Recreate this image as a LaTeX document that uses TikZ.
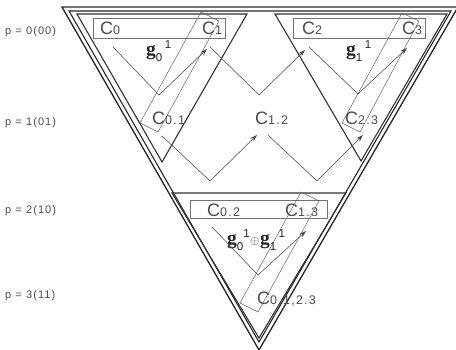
\documentclass[tikz,border=0pt]{standalone}
\usepackage{fontspec}
\setmainfont{Liberation Sans}
\newfontfamily\labfont[LetterSpace=10]{Liberation Sans}
\newfontfamily\gfont{Liberation Serif}
\usetikzlibrary{arrows.meta}
\tikzset{
  outertri/.style={draw=black!85, line width=1.3pt, line join=miter},
  tri/.style={draw=black!80, line width=1.1pt, line join=miter},
  box/.style={draw=black!55, line width=0.6pt},
  tilt/.style={draw=black!60, line width=0.5pt, line join=miter},
  flow/.style={draw=black!72, line width=0.55pt},
  arr/.style={flow, -{Stealth[length=7pt,width=4.5pt]}},
  clab/.style={inner sep=0pt, anchor=base west, text=black!70},
  plab/.style={inner sep=0pt, anchor=base west, text=black!70, font=\labfont\fontsize{11}{11}\selectfont},
  glab/.style={inner sep=0pt, anchor=base west, text=black!85},
}
\newcommand\Cl[1]{{\fontsize{18}{18}\selectfont C}{\labfont\fontsize{12.5}{12.5}\selectfont #1}}
\newcommand\gsym{{\gfont\bfseries\fontsize{19.5}{19.5}\selectfont g}}
\newcommand\gsub[1]{\raisebox{-6pt}{\fontsize{11.5}{11.5}\selectfont #1}}
\newcommand\gsup[1]{\raisebox{7pt}{\fontsize{11.5}{11.5}\selectfont #1}}
\begin{document}
\begin{tikzpicture}[x=1pt,y=-1pt]
\useasboundingbox (0,0) rectangle (456,350);
% outer double triangle
\draw[outertri] (62,7) -- (458,7) -- (259,350) -- cycle;
\draw[outertri, line width=1.1pt] (69,11) -- (451,11) -- (259,342) -- cycle;
% small triangles
\draw[tri] (77,14) -- (247,14) -- (162,162) -- cycle;
\draw[tri] (275,14) -- (447,14) -- (361,161) -- cycle;
\draw[tri] (172,193) -- (346,193) -- (259,338) -- cycle;
% rectangles
\draw[box] (93,18) rectangle (225,38);
\draw[box] (293,18) rectangle (425,38);
\draw[box] (190,200) rectangle (327,218);
% tilted rectangles
\draw[tilt] (201,12) -- (219,21) -- (158,132) -- (140,123) -- cycle;
\draw[tilt] (402,13) -- (419,21) -- (360,132) -- (342,123) -- cycle;
\draw[tilt] (301,192) -- (319,201) -- (258,312) -- (240,303) -- cycle;
% chevrons
\coordinate (l0) at (113,47); \coordinate (l1) at (159,95); \coordinate (l2) at (207,49);
\coordinate (m0) at (210,47); \coordinate (m1) at (259,95); \coordinate (m2) at (305,50);
\coordinate (r0) at (309,47); \coordinate (r1) at (358,94); \coordinate (r2) at (407,48);
\coordinate (b0) at (212,227); \coordinate (b1) at (258,275); \coordinate (b2) at (306,231);
\coordinate (s0) at (162,136); \coordinate (s1) at (210,181); \coordinate (s2) at (257,135);
\coordinate (t0) at (268,135); \coordinate (t1) at (317,181); \coordinate (t2) at (363,135);
\draw[arr] (l0) -- (l1) -- (l2);
\draw[arr] (m0) -- (m1) -- (m2);
\draw[arr] (r0) -- (r1) -- (r2);
\draw[arr] (b0) -- (b1) -- (b2);
\draw[arr] (s0) -- (s1) -- (s2);
\draw[arr] (t0) -- (t1) -- (t2);
% C labels
\node[clab] (c0) at (100,35) {\Cl{0}};
\node[clab] (c1) at (202,35) {\Cl{1}};
\node[clab] (c2) at (302,35) {\Cl{2}};
\node[clab] (c3) at (402,35) {\Cl{3}};
\node[clab] (c01) at (152,125) {\Cl{0.1}};
\node[clab] (c12) at (255,125) {\Cl{1.2}};
\node[clab] (c23) at (345,125) {\Cl{2.3}};
\node[clab] (c02) at (207,217) {\Cl{0.2}};
\node[clab] (c13) at (285,217) {\Cl{1.3}};
\node[clab] (c0123) at (257,305) {\Cl{0.1,2.3}};
% g labels
\node[glab] (g0) at (146,56) {\gsym\gsub{0}\hspace{2.5pt}\gsup{1}};
\node[glab] (g1) at (346,56) {\gsym\gsub{1}\hspace{2.5pt}\gsup{1}};
\node[glab] (g01) at (227,245) {\gsym\gsub{0}\gsup{1}\hspace{0.5pt}\raisebox{0pt}{\fontsize{13}{13}\selectfont$\oplus$}\hspace{0.5pt}\gsym\gsub{1}\hspace{2.5pt}\gsup{1}};
% p labels
\node[plab] (p0) at (5,35) {p = 0(00)};
\node[plab] (p1) at (5,126) {p = 1(01)};
\node[plab] (p2) at (5,214) {p = 2(10)};
\node[plab] (p3) at (5,299) {p = 3(11)};
\end{tikzpicture}
\end{document}
